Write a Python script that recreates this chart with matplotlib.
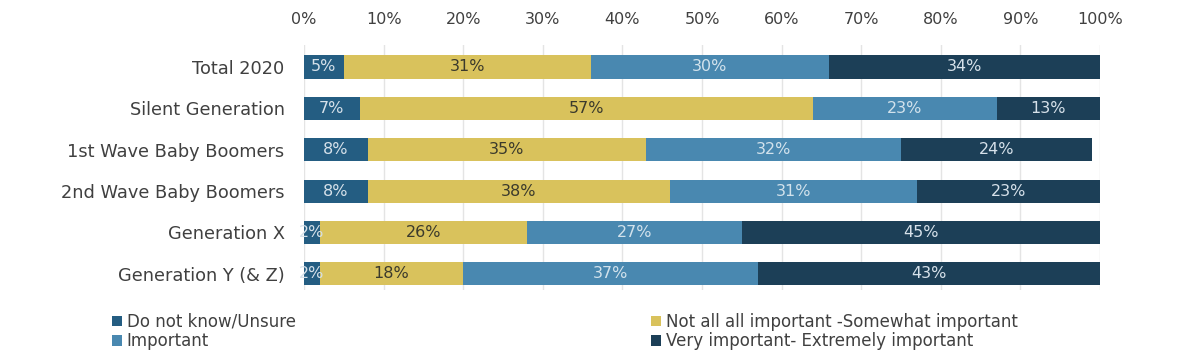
import numpy as np
from matplotlib import pyplot as plt
from matplotlib.ticker import PercentFormatter

categories = ["Total 2020", "Silent Generation", "1st Wave Baby Boomers",
              "2nd Wave Baby Boomers", "Generation X", "Generation Y (& Z)"]
series_names = ["Do not know/Unsure", "Not all all important -Somewhat important",
                "Important", "Very important- Extremely important"]
unsure = [5, 7, 8, 8, 2, 2]
somewhat = [31, 57, 35, 38, 26, 18]
important = [30, 23, 32, 31, 27, 37]
very = [34, 13, 24, 23, 45, 43]

colors = ["#245d82", "#d9c25c", "#4988b0", "#1c3f57"]
label_colors = ["#d6e1ea", "#3b3a2c", "#d2e2ec", "#d6e1ea"]

plt.rcParams["font.family"] = ["DejaVu Sans"]
text_col = "#404040"

fig = plt.figure(figsize=(11.77, 3.57), dpi=100)
ax = fig.add_axes([304 / 1177, 1 - 290 / 357, 796 / 1177, 245 / 357])

y = np.arange(len(categories))
left = np.zeros(len(categories))
handles = []
for vals, name, col, lcol in zip([unsure, somewhat, important, very],
                                 series_names, colors, label_colors):
    vals = np.array(vals, dtype=float)
    bars = ax.barh(y, vals, left=left, height=0.56, color=col,
                   edgecolor="none", label=name, zorder=2)
    for yi, l, v in zip(y, left, vals):
        ax.text(l + v / 2, yi, f"{int(v)}%", ha="center", va="center",
                color=lcol, fontsize=11.5, zorder=3)
    handles.append(bars)
    left += vals

ax.set_xlim(0, 100)
ax.set_ylim(5.39, -0.53)
ax.set_xticks(np.arange(0, 101, 10))
ax.xaxis.set_major_formatter(PercentFormatter(decimals=0))
ax.xaxis.tick_top()
ax.tick_params(axis="x", length=0, pad=13, labelsize=11.5, colors=text_col)
ax.set_yticks(y)
ax.set_yticklabels(categories)
ax.tick_params(axis="y", length=0, pad=14, labelsize=12.8, colors=text_col)
ax.grid(axis="x", color="#e4e4e4", linewidth=1, zorder=0)
for s in ax.spines.values():
    s.set_visible(False)

order = [0, 2, 1, 3]
fig.legend([handles[i] for i in order], [series_names[i] for i in order],
           ncol=2, loc="lower left", bbox_to_anchor=(105 / 1177, 0.0),
           frameon=False, fontsize=12, handlelength=0.6, handleheight=0.6,
           handletextpad=0.3, labelspacing=0.1, columnspacing=21.3,
           labelcolor=text_col, borderaxespad=0.0)

fig.savefig("out.png", dpi=100)
